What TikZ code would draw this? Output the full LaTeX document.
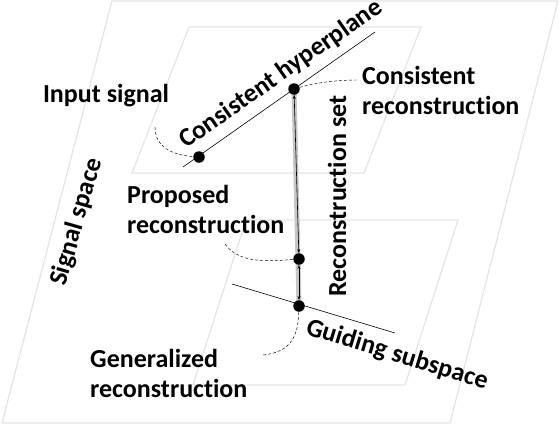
\documentclass[tikz,border=0pt]{standalone}
\usepackage{fontspec}
\setmainfont{Carlito}[Ligatures=NoCommon]
\usetikzlibrary{arrows.meta,backgrounds}
\definecolor{plane gray}{rgb}{0.9, 0.9, 0.9}
\definecolor{band gray}{rgb}{0.78, 0.78, 0.78}

\begin{document}
\begin{tikzpicture}[x=1pt, y=-1pt, font=\fontsize{26}{30}\selectfont\bfseries,
		dot/.style={circle, fill=black, inner sep=0pt, minimum size=11.5pt},
		leader/.style={densely dashed, line width=0.45pt},
		plane/.style={draw=plane gray, line width=1.3pt},
		>={Stealth[length=4pt, width=3pt]}]
			\useasboundingbox (0,0) rectangle (560,426);
			% points on the spaces
			\node[dot] (input) at (199,157) {};
			\node[dot] (cons) at (294,89) {};
			\node[dot] (prop) at (299,259) {};
			\node[dot] (gen) at (299,306) {};
			% outlines of the spaces, and the set behind the points
			\begin{scope}[on background layer]
				\draw[plane]
					(112,1) -- (558,1) -- (450,423) -- (2,423) -- cycle
					(189,27) -- (421,27) -- (364,173) -- (132,173) -- cycle
					(246,220) -- (458,220) -- (405,385) -- (193,385) -- cycle;
				\draw[band gray, line width=5pt] (cons.center) -- (gen.center);
			\end{scope}
			% hyperplane and subspace
			\coordinate (hyp a) at (183,167);
			\coordinate (hyp b) at (375,32);
			\coordinate (gui a) at (232,284);
			\coordinate (gui b) at (395,333);
			\draw[line width=0.6pt] (hyp a) -- (hyp b);
			\draw[line width=0.6pt] (gui a) -- (gui b);
			% reconstruction set
			\draw[<->, line width=0.6pt] (cons) -- (prop);
			\draw[<->, line width=0.6pt] (prop) -- (gen);
			% labels
			\node (input label) at (106,96) {Input signal};
			\node[rotate=35] (hyp label) at (281,74) {Consistent hyperplane};
			\node[anchor=west, align=left, inner sep=0pt] (cons label) at (362,90) {Consistent\\reconstruction};
			\node[rotate=90] (set label) at (337,196) {Reconstruction set};
			\node[rotate=74] (space label) at (77,222) {Signal space};
			\node[anchor=west, align=left, inner sep=0pt] (prop label) at (127,209) {Proposed\\reconstruction};
			\node[rotate=-17] (gui label) at (397,355) {Guiding subspace};
			\node[anchor=west, align=left, inner sep=0pt] (gen label) at (90,373) {Generalized\\reconstruction};
			% leaders from labels to points
			\coordinate (input end) at (155,127);
			\coordinate (cons end) at (357,80);
			\coordinate (prop end) at (225,244);
			\coordinate (gen end) at (263,355);
			\draw[leader] (input end) .. controls (155,147) and (172,155) .. (input);
			\draw[leader] (cons) .. controls (315,83) and (335,80) .. (cons end);
			\draw[leader] (prop end) .. controls (238,262) and (262,262) .. (prop);
			\draw[leader] (gen) .. controls (298,335) and (292,352) .. (gen end);
\end{tikzpicture}
\end{document}
